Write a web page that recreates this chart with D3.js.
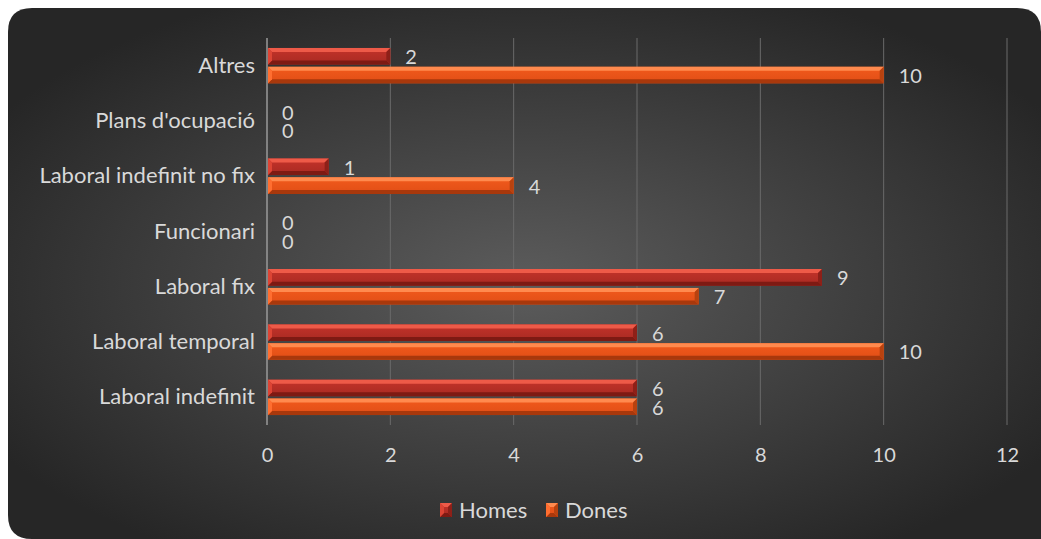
<!DOCTYPE html>
<html>
<head>
<meta charset="utf-8">
<script src="https://cdn.jsdelivr.net/npm/d3@7"></script>
<style>
  html, body { margin: 0; padding: 0; background: #ffffff; }
  svg { display: block; }
</style>
</head>
<body>
<svg id="chart" width="1041" height="539"></svg>
<script>
// Categories listed top to bottom
const categories = ["Altres", "Plans d'ocupació", "Laboral indefinit no fix", "Funcionari",
                    "Laboral fix", "Laboral temporal", "Laboral indefinit"];
const homes = [2, 0, 1, 0, 9, 6, 6];
const dones = [10, 0, 4, 0, 7, 10, 6];
const seriesNames = ["Homes", "Dones"];
const xTicks = [0, 2, 4, 6, 8, 10, 12];

const svg = d3.select("#chart");
const font = "Lato, 'Open Sans', sans-serif";
const fontSize = 22;
const numberSize = 20;
const textColor = "#d9d9d9";

const defs = svg.append("defs");
const bg = defs.append("radialGradient").attr("id", "bgGrad")
  .attr("cx", "50%").attr("cy", "52%").attr("r", "60%");
bg.append("stop").attr("offset", "0%").attr("stop-color", "#5c5c5c");
bg.append("stop").attr("offset", "100%").attr("stop-color", "#262626");

// Rounded panel
svg.append("path")
  .attr("d", (() => {
    const x0 = 8, y0 = 8, x1 = 1041, y1 = 539, r = 24;
    return `M${x0 + r},${y0} H${x1 - r} Q${x1},${y0} ${x1},${y0 + r} V${y1} H${x0 + r} Q${x0},${y1} ${x0},${y1 - r} V${y0 + r} Q${x0},${y0} ${x0 + r},${y0} Z`;
  })())
  .attr("fill", "url(#bgGrad)");

const plot = { left: 267, right: 1007, top: 38, bottom: 425 };

const x = d3.scaleLinear().domain([0, 12]).range([plot.left, plot.right]);
const y = d3.scaleBand().domain(categories).range([plot.top, plot.bottom]).paddingInner(0.36).paddingOuter(0.18);
const ySub = d3.scaleBand().domain(seriesNames).range([0, y.bandwidth()]).paddingInner(0.12);

// Vertical gridlines
svg.append("g").selectAll("line").data(xTicks.slice(1)).join("line")
  .attr("x1", d => x(d)).attr("x2", d => x(d))
  .attr("y1", plot.top).attr("y2", plot.bottom)
  .attr("stroke", "#6a6a6a").attr("stroke-width", 1);

// Value axis: tick labels only
const xAxis = svg.append("g")
  .attr("transform", `translate(0,${plot.bottom})`)
  .call(d3.axisBottom(x).tickValues(xTicks).tickSize(0).tickPadding(23).tickFormat(d3.format("d")));
xAxis.select(".domain").remove();
xAxis.selectAll("text").attr("fill", textColor).attr("font-size", numberSize).attr("font-family", font);

// Category axis
const yAxis = svg.append("g")
  .attr("transform", `translate(${plot.left},0)`)
  .call(d3.axisLeft(y).tickSize(0).tickPadding(12));
yAxis.select(".domain").attr("stroke", "#9a9a9a").attr("stroke-width", 1.5)
  .attr("d", `M0,${plot.top}V${plot.bottom}`);
yAxis.selectAll("text").attr("fill", textColor).attr("font-size", fontSize).attr("font-family", font);

// Bevelled bar colours
const palette = {
  Homes: { face: "#c4332a", top: "#ee5a48", bottom: "#7e1a13", left: "#dc4434", right: "#8e2018", faceLow: "#a82a22" },
  Dones: { face: "#f25a1c", top: "#ff8a4e", bottom: "#a8380c", left: "#ff6e30", right: "#b8420f", faceLow: "#e04e16" }
};
seriesNames.forEach(s => {
  const g = defs.append("linearGradient").attr("id", "face" + s).attr("x1", 0).attr("y1", 0).attr("x2", 0).attr("y2", 1);
  g.append("stop").attr("offset", "0%").attr("stop-color", palette[s].face);
  g.append("stop").attr("offset", "100%").attr("stop-color", palette[s].faceLow);
});

function bevelBar(g, x0, y0, w, h, s) {
  if (w <= 0) return;
  const c = palette[s];
  const b = Math.min(4, w / 2, h / 2);
  const x1 = x0 + w, y1 = y0 + h;
  g.append("rect").attr("x", x0).attr("y", y0).attr("width", w).attr("height", h).attr("fill", "url(#face" + s + ")");
  g.append("polygon").attr("points", `${x0},${y0} ${x1},${y0} ${x1 - b},${y0 + b} ${x0 + b},${y0 + b}`).attr("fill", c.top);
  g.append("polygon").attr("points", `${x0},${y1} ${x1},${y1} ${x1 - b},${y1 - b} ${x0 + b},${y1 - b}`).attr("fill", c.bottom);
  g.append("polygon").attr("points", `${x0},${y0} ${x0 + b},${y0 + b} ${x0 + b},${y1 - b} ${x0},${y1}`).attr("fill", c.left);
  g.append("polygon").attr("points", `${x1},${y0} ${x1 - b},${y0 + b} ${x1 - b},${y1 - b} ${x1},${y1}`).attr("fill", c.right);
}

const bars = svg.append("g");
const labels = svg.append("g");
const seriesData = { Homes: homes, Dones: dones };
categories.forEach((cat, i) => {
  seriesNames.forEach(s => {
    const v = seriesData[s][i];
    const by = y(cat) + ySub(s);
    const bh = ySub.bandwidth();
    bevelBar(bars, x(0) + 1, by, x(v) - x(0) - 1, bh, s);
    labels.append("text")
      .attr("x", x(v) + 15)
      .attr("y", by + bh / 2 + 1)
      .attr("dy", "0.35em")
      .attr("fill", textColor)
      .attr("font-size", numberSize)
      .attr("font-family", font)
      .text(v);
  });
});

// Legend
const legend = svg.append("g").attr("transform", "translate(0,510)");
const legendItems = [{ s: "Homes", x: 440 }, { s: "Dones", x: 546 }];
legendItems.forEach(it => {
  const g = legend.append("g");
  bevelBar(g, it.x, -7, 12, 14, it.s);
  g.append("text").attr("x", it.x + 19).attr("y", 0).attr("dy", "0.35em")
    .attr("fill", textColor).attr("font-size", fontSize).attr("font-family", font).text(it.s);
});
</script>
</body>
</html>
